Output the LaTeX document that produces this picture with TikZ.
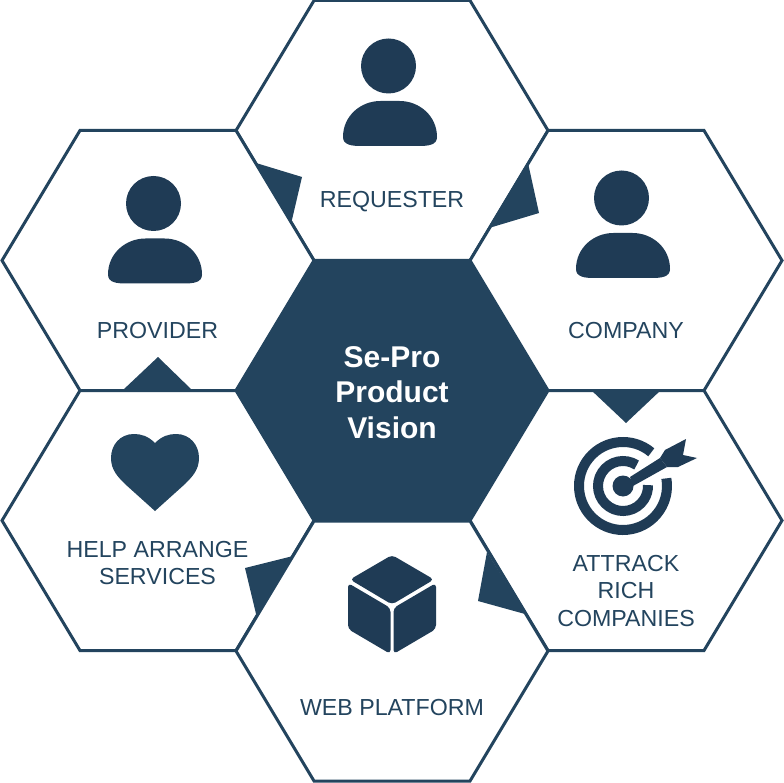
\documentclass[tikz,border=0pt]{standalone}
\usepackage{fontspec}
\setmainfont{Liberation Sans}
\usepackage{tikz}
\definecolor{hexblue}{HTML}{23445E}
\definecolor{icondark}{HTML}{1F3B55}
\newcommand{\hexcell}[2]{
  \coordinate (#1) at #2;
  \draw[hexline, shift={(#1)}] (-78,-130) -- (78,-130) -- (156,0) -- (78,130) -- (-78,130) -- (-156,0) -- cycle;
}
\newcommand{\personicon}[1]{
  \fill[icondark, shift={#1}] (0,0) circle [radius=27.5];
  \fill[icondark, shift={#1}] (-45.5,71) .. controls (-45.5,50) and (-28,35) .. (-8,35) -- (11,35)
    .. controls (31,35) and (48.5,50) .. (48.5,71) .. controls (48.5,79) and (40,80) .. (30,80)
    -- (-27,80) .. controls (-37,80) and (-45.5,79) .. (-45.5,71) -- cycle;
}

\begin{document}
\begin{tikzpicture}[x=1pt, y=-1pt]
\tikzstyle{hexline}=[draw=hexblue, line width=3pt, line join=miter, fill=white]
\tikzstyle{notch}=[fill=hexblue]
\tikzstyle{cell}=[text=hexblue, align=center, inner sep=0pt, font=\fontsize{23.2}{27.3}\selectfont]
\tikzstyle{core}=[text=white, align=center, inner sep=0pt, font=\fontsize{30}{35.5}\selectfont\bfseries]

  \useasboundingbox (0,0) rectangle (784,783);

  \hexcell{requesterhex}{(392,130.5)}
  \hexcell{providerhex}{(158,260.5)}
  \hexcell{companyhex}{(626,260.5)}
  \hexcell{helphex}{(158,520.5)}
  \hexcell{attracthex}{(626,520.5)}
  \hexcell{webhex}{(392,651)}

  % pointers between the cells
  \fill[notch] (256,163) -- (302,177) -- (291,224) -- cycle;
  \fill[notch] (528,163) -- (539,213) -- (489,228) -- cycle;
  \fill[notch] (591,390) -- (626,423) -- (661,390) -- cycle;
  \fill[notch] (487,552) -- (478,601) -- (525,614) -- cycle;
  \fill[notch] (293,556) -- (245,568) -- (257,618) -- cycle;
  \fill[notch] (123,390) -- (158,357) -- (192,390) -- cycle;

  \fill[hexblue] (314,260) -- (470,260) -- (549,390.5) -- (470,521) -- (314,521) -- (235,390.5) -- cycle;

  \personicon{(388.5,66)}
  \personicon{(153.5,203.5)}
  \personicon{(621.5,198)}

  % heart
  \fill[hexblue] (155,443) .. controls (148,436) and (141,434) .. (134,434) .. controls (120,434) and (111,445) .. (111,458)
    .. controls (111,470) and (118,477) .. (125,484) -- (155,511) -- (185,484)
    .. controls (192,477) and (199,470) .. (199,458) .. controls (199,445) and (190,434) .. (176,434)
    .. controls (169,434) and (162,436) .. (155,443) -- cycle;

  % cube
  \fill[icondark, rounded corners=4pt] (392,555) -- (434,579.5) -- (392,604.5) -- (350,579.5) -- cycle;
  \fill[icondark, rounded corners=4pt] (348,583) -- (390.5,608) -- (390.5,654) -- (348,629) -- cycle;
  \fill[icondark, rounded corners=4pt] (436,583) -- (393.5,608) -- (393.5,654) -- (436,629) -- cycle;

  % target
  \begin{scope}[shift={(623,486)}, yscale=-1]
    \draw[icondark, line width=10pt] (50:44) arc [start angle=50, end angle=370, radius=44];
    \draw[icondark, line width=10pt] (57:25) arc [start angle=57, end angle=362, radius=25];
    \fill[icondark] (0,0) circle [radius=10.5];
    \fill[icondark] (7,9) -- (37,28) -- (44,19) -- (10,0) -- cycle;
    \fill[icondark] (37,28) -- (42,36) -- (63,47) -- (60,31) -- (74,28) -- (55,19) -- (44,19) -- cycle;
  \end{scope}

  \node[cell] (requester) at (392,202) {REQUESTER};
  \node[cell] (provider)  at (157.5,331) {PROVIDER};
  \node[cell] (company)   at (626,331) {COMPANY};
  \node[cell] (help)      at (157.5,563) {HELP ARRANGE\\SERVICES};
  \node[cell] (attract)   at (626,591) {ATTRACK\\RICH\\COMPANIES};
  \node[cell] (web)       at (392,707.5) {WEB PLATFORM};
  \node[core] (vision)    at (392,392.5) {Se-Pro\\Product\\Vision};

\end{tikzpicture}
\end{document}
